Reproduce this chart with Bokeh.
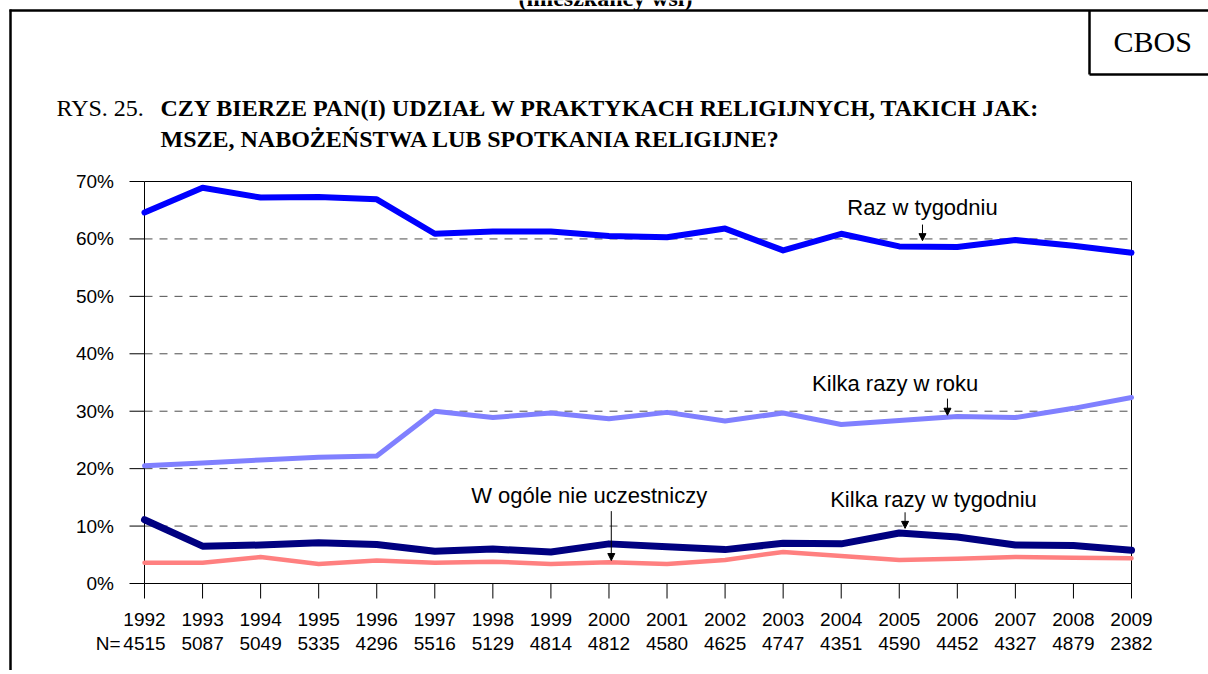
from bokeh.plotting import figure
from bokeh.models import Label, Arrow, NormalHead, Range1d
from bokeh.core.properties import value
from bokeh.embed import file_html
from bokeh.resources import INLINE

# ---------------- data ----------------
years = [1992, 1993, 1994, 1995, 1996, 1997, 1998, 1999, 2000,
         2001, 2002, 2003, 2004, 2005, 2006, 2007, 2008, 2009]
n_values = [4515, 5087, 5049, 5335, 4296, 5516, 5129, 4814, 4812,
            4580, 4625, 4747, 4351, 4590, 4452, 4327, 4879, 2382]
raz_w_tygodniu = [64.6, 68.9, 67.2, 67.3, 66.9, 60.9, 61.3, 61.3, 60.5,
                  60.3, 61.8, 58.0, 60.9, 58.7, 58.6, 59.8, 58.8, 57.6]
kilka_razy_w_roku = [20.5, 21.0, 21.5, 22.0, 22.2, 30.0, 28.9, 29.7, 28.7,
                     29.8, 28.3, 29.7, 27.7, 28.4, 29.1, 28.9, 30.5, 32.4]
kilka_razy_w_tygodniu = [11.1, 6.5, 6.7, 7.1, 6.8, 5.6, 6.0, 5.5, 6.9,
                         6.4, 5.9, 7.0, 6.9, 8.8, 8.1, 6.7, 6.6, 5.8]
w_ogole_nie = [3.6, 3.6, 4.6, 3.4, 4.0, 3.6, 3.8, 3.4, 3.7,
               3.4, 4.1, 5.5, 4.8, 4.1, 4.3, 4.6, 4.5, 4.4]
pct_ticks = [0, 10, 20, 30, 40, 50, 60, 70]
pct_labels = ["0%", "10%", "20%", "30%", "40%", "50%", "60%", "70%"]
year_labels = [str(y) for y in years]
n_labels = [str(n) for n in n_values]

header = "(mieszkańcy wsi)"
title_prefix = "RYS. 25."
title_line1 = "CZY BIERZE PAN(I) UDZIAŁ W PRAKTYKACH RELIGIJNYCH, TAKICH JAK:"
title_line2 = "MSZE, NABOŻEŃSTWA LUB SPOTKANIA RELIGIJNE?"
brand = "CBOS"

SANS = "Liberation Sans"
SERIF = "Liberation Serif"

# ---------------- layout (page pixels) ----------------
W, H = 1208, 670
PLOT_LEFT, PLOT_RIGHT, PLOT_TOP, PLOT_BOTTOM = 144, 1131, 181, 583
TICK = 15
PX_PER_YEAR = (PLOT_RIGHT - PLOT_LEFT) / (years[-1] - years[0])
PX_PER_PCT = (PLOT_BOTTOM - PLOT_TOP) / (pct_ticks[-1] - pct_ticks[0])


def X(px):
    return years[0] + (px - PLOT_LEFT) / PX_PER_YEAR


def Y(py):
    return pct_ticks[0] + (PLOT_BOTTOM - py) / PX_PER_PCT


p = figure(width=W, height=H, min_border=0, title=None,
           x_axis_type=None, y_axis_type=None,
           x_range=Range1d(X(0), X(W)), y_range=Range1d(Y(H), Y(0)),
           output_backend="svg", toolbar_location=None,
           background_fill_color="white", border_fill_color="white")
p.outline_line_color = None

n_y = len(pct_ticks)
n_x = len(years)

# dashed horizontal gridlines
inner = pct_ticks[1:-1]
p.segment(x0=[years[0]] * len(inner), y0=inner, x1=[years[-1]] * len(inner), y1=inner,
          line_color="#4d4d4d", line_width=1, line_dash="8 7")

# plot frame: axes + top/right border
p.segment(x0=[years[0], years[0], years[0], years[-1]],
          y0=[pct_ticks[0], pct_ticks[0], pct_ticks[-1], pct_ticks[0]],
          x1=[years[-1], years[0], years[-1], years[-1]],
          y1=[pct_ticks[0], pct_ticks[-1], pct_ticks[-1], pct_ticks[-1]],
          line_color="black", line_width=1)

# ticks
p.segment(x0=years, y0=[pct_ticks[0]] * n_x, x1=years, y1=[Y(PLOT_BOTTOM + TICK)] * n_x,
          line_color="black", line_width=1)
p.segment(x0=[X(PLOT_LEFT - TICK)] * n_y, y0=pct_ticks, x1=[years[0]] * n_y, y1=pct_ticks,
          line_color="black", line_width=1)

# tick labels
p.text(x=[X(113.5)] * n_y, y=pct_ticks, text=pct_labels,
       text_font=value(SANS), text_font_size=value("19px"), text_color="black",
       text_align="right", text_baseline="middle")
p.text(x=years, y=[Y(619)] * n_x, text=year_labels,
       text_font=value(SANS), text_font_size=value("19px"), text_color="black",
       text_align="center", text_baseline="middle")
p.text(x=years, y=[Y(642.5)] * n_x, text=n_labels,
       text_font=value(SANS), text_font_size=value("19px"), text_color="black",
       text_align="center", text_baseline="middle")
p.text(x=[X(120)], y=[Y(642.5)], text=["N="],
       text_font=value(SANS), text_font_size=value("19px"), text_color="black",
       text_align="right", text_baseline="middle")

# ---------------- series ----------------
p.line(years, w_ogole_nie, line_color="#FF8080", line_width=4.5,
       line_join="round", line_cap="round")
p.line(years, kilka_razy_w_tygodniu, line_color="#000080", line_width=7,
       line_join="round", line_cap="round")
p.line(years, kilka_razy_w_roku, line_color="#8080FF", line_width=5,
       line_join="round", line_cap="round")
p.line(years, raz_w_tygodniu, line_color="#0000FF", line_width=6,
       line_join="round", line_cap="round")

# ---------------- series labels + arrows ----------------
def series_label(text, x, y):
    p.add_layout(Label(x=x, y=y, text=text, text_align="center",
                       text_baseline="middle", text_font=SANS,
                       text_font_size="22px", text_color="black"))


def pointer(x, y0, y1):
    p.add_layout(Arrow(end=NormalHead(size=7, fill_color="black", line_color="black",
                                      line_width=1),
                       x_start=x, y_start=y0, x_end=x, y_end=y1,
                       line_color="black", line_width=1))


series_label("Raz w tygodniu", 2005.40, Y(207.2))
pointer(2005.40, 62.5, 59.7)
series_label("Kilka razy w roku", 2004.93, Y(382.9))
pointer(2005.83, 32.2, 29.3)
series_label("Kilka razy w tygodniu", 2005.59, Y(498.9))
pointer(2005.10, 12.4, 9.6)
series_label("W ogóle nie uczestniczy", 1999.66, Y(494.5))
pointer(2000.04, 12.6, 4.0)

# ---------------- page decorations ----------------
# outer frame (left + top edges) and the CBOS box
p.segment(x0=[X(10), X(9), X(1089), X(1089)],
          y0=[Y(9), Y(10), Y(10), Y(74)],
          x1=[X(10), X(W + 5), X(1089), X(W + 5)],
          y1=[Y(H + 5), Y(10), Y(74), Y(74)],
          line_color="black", line_width=2.5)
p.text(x=[X(1113)], y=[Y(40.5)], text=[brand],
       text_font=value(SERIF), text_font_size=value("30px"), text_color="black",
       text_align="left", text_baseline="middle")

# header cut off at the top of the page (as in the source document)
p.add_layout(Label(x=X(605), y=Y(-3), text=header, text_align="center",
                   text_baseline="middle", text_font=SERIF, text_font_size="24px",
                   text_font_style="bold", text_color="black"))

# title
p.text(x=[X(56)], y=[Y(107.5)], text=[title_prefix],
       text_font=value(SERIF), text_font_size=value("24px"), text_color="black",
       text_align="left", text_baseline="middle")
p.text(x=[X(160), X(160)], y=[Y(107.5), Y(138.3)], text=[title_line1, title_line2],
       text_font=value(SERIF), text_font_size=value("24px"), text_font_style="bold",
       text_color="black", text_align="left", text_baseline="middle")

open("out.html", "w").write(file_html(p, INLINE))
